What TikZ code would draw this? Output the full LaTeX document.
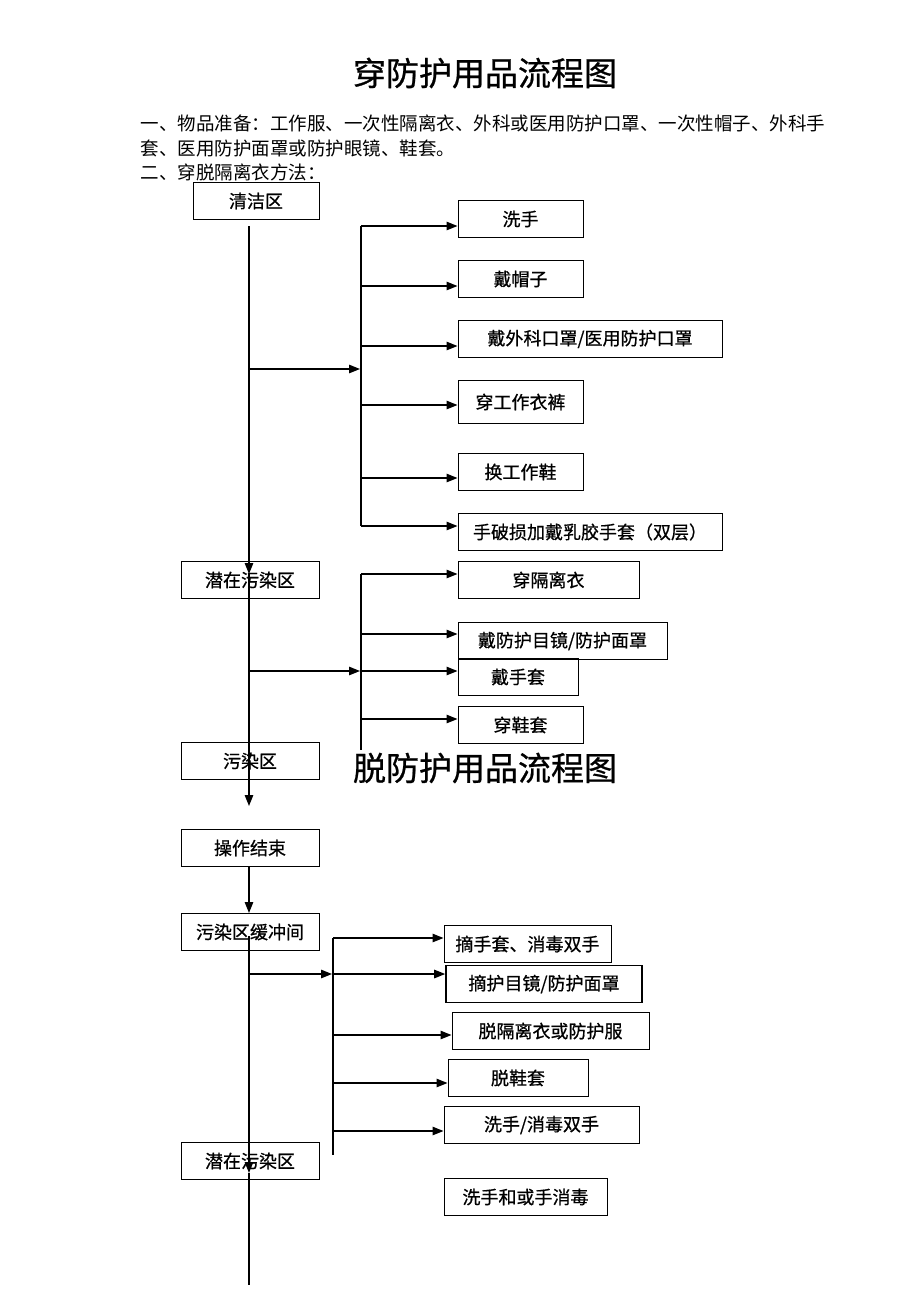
\documentclass[tikz,border=0pt]{standalone}
\usepackage{fontspec}
\setmainfont{Noto Sans CJK SC}
\newfontfamily\boxfont{Noto Sans CJK SC}[FakeBold=0.7]
\usetikzlibrary{arrows.meta,positioning}

\begin{document}
\begin{tikzpicture}
[x=1pt,y=-1pt,thick,line width=1.3pt,
 box/.style={draw,line width=1pt,minimum height=37pt,inner sep=0pt,
   font=\boxfont\fontsize{18}{20}\selectfont},
 arr/.style={-{Triangle[length=11pt,width=8.5pt]}},
 txt/.style={anchor=west,inner sep=0pt,font=\fontsize{18.5}{22}\selectfont},
 ttl/.style={inner sep=0pt,font=\boxfont\fontsize{33}{38}\selectfont}]
\useasboundingbox (0,0) rectangle (920,1302);

% titles and text
\node[ttl] (t1) at (485,73) {穿防护用品流程图};
\node[txt] (l1) at (140,123) {一、物品准备：工作服、一次性隔离衣、外科或医用防护口罩、一次性帽子、外科手};
\node[txt] (l2) at (140,148) {套、医用防护面罩或防护眼镜、鞋套。};
\node[txt] (l3) at (140,172) {二、穿脱隔离衣方法：};
\node[ttl] (t2) at (485,768) {脱防护用品流程图};

% zones
\node[box,minimum width=126pt] (qj) at (256,201) {清洁区};
\node[box,minimum width=138pt] (qz1) at (250,580) {潜在污染区};
\node[box,minimum width=138pt] (wr) at (250,761) {污染区};
\node[box,minimum width=138pt] (js) at (250,848) {操作结束};
\node[box,minimum width=138pt] (hc) at (250,932) {污染区缓冲间};
\node[box,minimum width=138pt] (qz2) at (250,1161) {潜在污染区};

% putting on
\node[box,minimum width=125pt] (xs) at (520.5,219) {洗手};
\node[box,minimum width=125pt] (dm) at (520.5,279) {戴帽子};
\node[box,minimum width=264pt] (kz) at (590,339) {戴外科口罩/医用防护口罩};
\node[box,minimum width=125pt,minimum height=43pt] (gz) at (520.5,402) {穿工作衣裤};
\node[box,minimum width=125pt] (gx) at (520.5,472) {换工作鞋};
\node[box,minimum width=264pt] (st) at (590,532) {手破损加戴乳胶手套（双层）};
\node[box,minimum width=181pt] (gl) at (548.5,580) {穿隔离衣};
\node[box,minimum width=209pt] (mj) at (562.5,641) {戴防护目镜/防护面罩};
\node[box,minimum width=120pt] (ds) at (518,677) {戴手套};
\node[box,minimum width=125pt] (xt) at (520.5,725) {穿鞋套};

% taking off
\node[box,minimum width=167pt] (zs) at (527.5,944) {摘手套、消毒双手};
\node[box,minimum width=196pt,line width=1.6pt] (zm) at (544,984) {摘护目镜/防护面罩};
\node[box,minimum width=197pt] (tg) at (550.5,1031) {脱隔离衣或防护服};
\node[box,minimum width=140pt] (tx) at (518,1078) {脱鞋套};
\node[box,minimum width=195pt] (xd) at (541.5,1125) {洗手/消毒双手};
\node[box,minimum width=163pt] (hx) at (525.5,1197) {洗手和或手消毒};

% trunk
\coordinate (a0) at (249,226);
\coordinate (a1) at (249,574);
\coordinate (a2) at (249,806);
\coordinate (c0) at (249,936);
\coordinate (c1) at (249,1173);
\coordinate (c2) at (249,1285);
\draw[arr] (a0) -- (a1);
\draw[arr] (a1) -- (a2);
\draw[arr] (js.south -| a0) -- (hc.north -| a0);
\draw[arr] (c0) -- (c1);
\draw (c1) -- (c2);

% branches
\draw[arr] (249,369) -- (360,369);
\draw (361,226) -- (361,526);
\foreach \n/\y in {xs/226,dm/286,kz/346,gz/405,gx/478,st/526}
  \draw[arr] (361,\y) -- (\n.west |- 0,\y);
\draw[arr] (249,671) -- (360,671);
\draw (361,574) -- (361,750);
\foreach \n/\y in {gl/574,mj/634,ds/671,xt/719}
  \draw[arr] (361,\y) -- (\n.west |- 0,\y);
\draw[arr] (249,974) -- (332,974);
\draw (333,938) -- (333,1155);
\foreach \n/\y in {zs/938,zm/974,tg/1035,tx/1083,xd/1131}
  \draw[arr] (333,\y) -- (\n.west |- 0,\y);
\end{tikzpicture}
\end{document}
